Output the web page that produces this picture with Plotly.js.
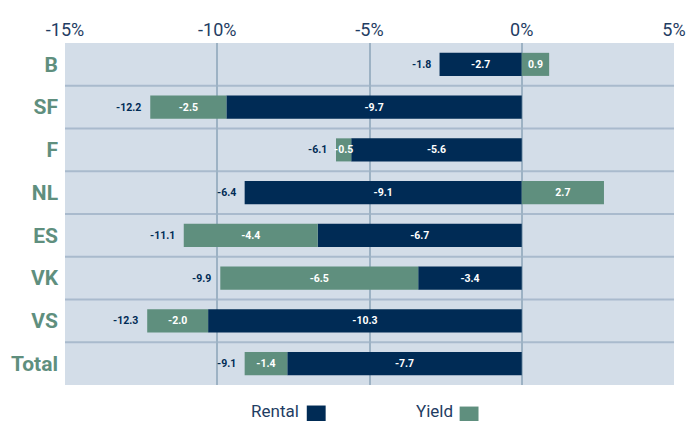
<!DOCTYPE html>
<html>
<head>
<meta charset="utf-8">
<script src="https://cdn.plot.ly/plotly-3.0.1.min.js"></script>
<style>html,body{margin:0;padding:0;background:#fff;}#chart{width:687px;height:421px;}</style>
</head>
<body>
<div id="chart"></div>
<script>
const categories = ["B", "SF", "F", "NL", "ES", "VK", "VS", "Total"];
const rental = [-2.7, -9.7, -5.6, -9.1, -6.7, -3.4, -10.3, -7.7];
const yieldVals = [0.9, -2.5, -0.5, 2.7, -4.4, -6.5, -2.0, -1.4];
const totals = [-1.8, -12.2, -6.1, -6.4, -11.1, -9.9, -12.3, -9.1];
const xTicks = [-15, -10, -5, 0, 5];

const NAVY = "#002b55";
const GREEN = "#5f8f7e";
const FONT = "Roboto, 'DejaVu Sans', sans-serif";

const barText = {family: FONT, size: 10.5, color: "#ffffff", weight: 700};

const traces = [
  {type: "bar", orientation: "h", name: "Rental", y: categories, x: rental,
   marker: {color: NAVY}, width: 0.54,
   text: rental.map(v => v.toFixed(1)), textposition: "inside", insidetextanchor: "middle",
   textangle: 0, constraintext: "none", textfont: barText, hoverinfo: "skip", showlegend: false},
  {type: "bar", orientation: "h", name: "Yield", y: categories, x: yieldVals,
   marker: {color: GREEN}, width: 0.54,
   text: yieldVals.map(v => v.toFixed(1)), textposition: "inside", insidetextanchor: "middle",
   textangle: 0, constraintext: "none", textfont: barText, hoverinfo: "skip", showlegend: false}
];

const annotations = categories.map((c, i) => ({
  x: Math.min(0, rental[i]) + Math.min(0, yieldVals[i]), y: c, xref: "x", yref: "y",
  text: totals[i].toFixed(1), showarrow: false, xanchor: "right", xshift: -7,
  font: {family: FONT, size: 10.5, color: NAVY, weight: 700}
}));

// legend drawn as text + square (text on left of swatch)
annotations.push(
  {xref: "paper", yref: "paper", x: 0.388, y: -0.042, text: "Rental", showarrow: false,
   xanchor: "right", yanchor: "top", font: {family: FONT, size: 17, color: "#1f3d63"}},
  {xref: "paper", yref: "paper", x: 0.641, y: -0.042, text: "Yield", showarrow: false,
   xanchor: "right", yanchor: "top", font: {family: FONT, size: 17, color: "#1f3d63"}}
);

const shapes = [];
for (let i = 1; i < categories.length; i++) {
  shapes.push({type: "line", xref: "paper", yref: "y", x0: 0, x1: 1, y0: i - 0.5, y1: i - 0.5,
    line: {color: "#a9bacd", width: 2}, layer: "below"});
}
shapes.push(
  {type: "rect", xref: "paper", yref: "paper", x0: 0.397, x1: 0.428, y0: -0.06, y1: -0.12,
   fillcolor: NAVY, line: {width: 0}},
  {type: "rect", xref: "paper", yref: "paper", x0: 0.648, x1: 0.679, y0: -0.063, y1: -0.12,
   fillcolor: GREEN, line: {width: 0}}
);

const layout = {
  width: 687, height: 421,
  margin: {l: 65, r: 13, t: 43, b: 36},
  paper_bgcolor: "#ffffff", plot_bgcolor: "#d3dde8",
  barmode: "relative", bargap: 0.46,
  font: {family: FONT},
  xaxis: {side: "top", range: [-15, 5], tickvals: xTicks, ticktext: xTicks.map(v => v + "%"),
    showgrid: true, gridcolor: "#9db2c4", gridwidth: 2, zeroline: false,
    tickfont: {family: FONT, size: 18, color: "#1f3d63"}, ticks: "", ticklabelstandoff: 2,
    fixedrange: true},
  yaxis: {autorange: "reversed", showgrid: false, zeroline: false, ticks: "",
    tickfont: {family: FONT, size: 21, color: GREEN, weight: 700}, ticklabelstandoff: 6,
    fixedrange: true},
  showlegend: false,
  annotations: annotations,
  shapes: shapes
};

Plotly.newPlot("chart", traces, layout, {displayModeBar: false, staticPlot: true});
</script>
</body>
</html>
